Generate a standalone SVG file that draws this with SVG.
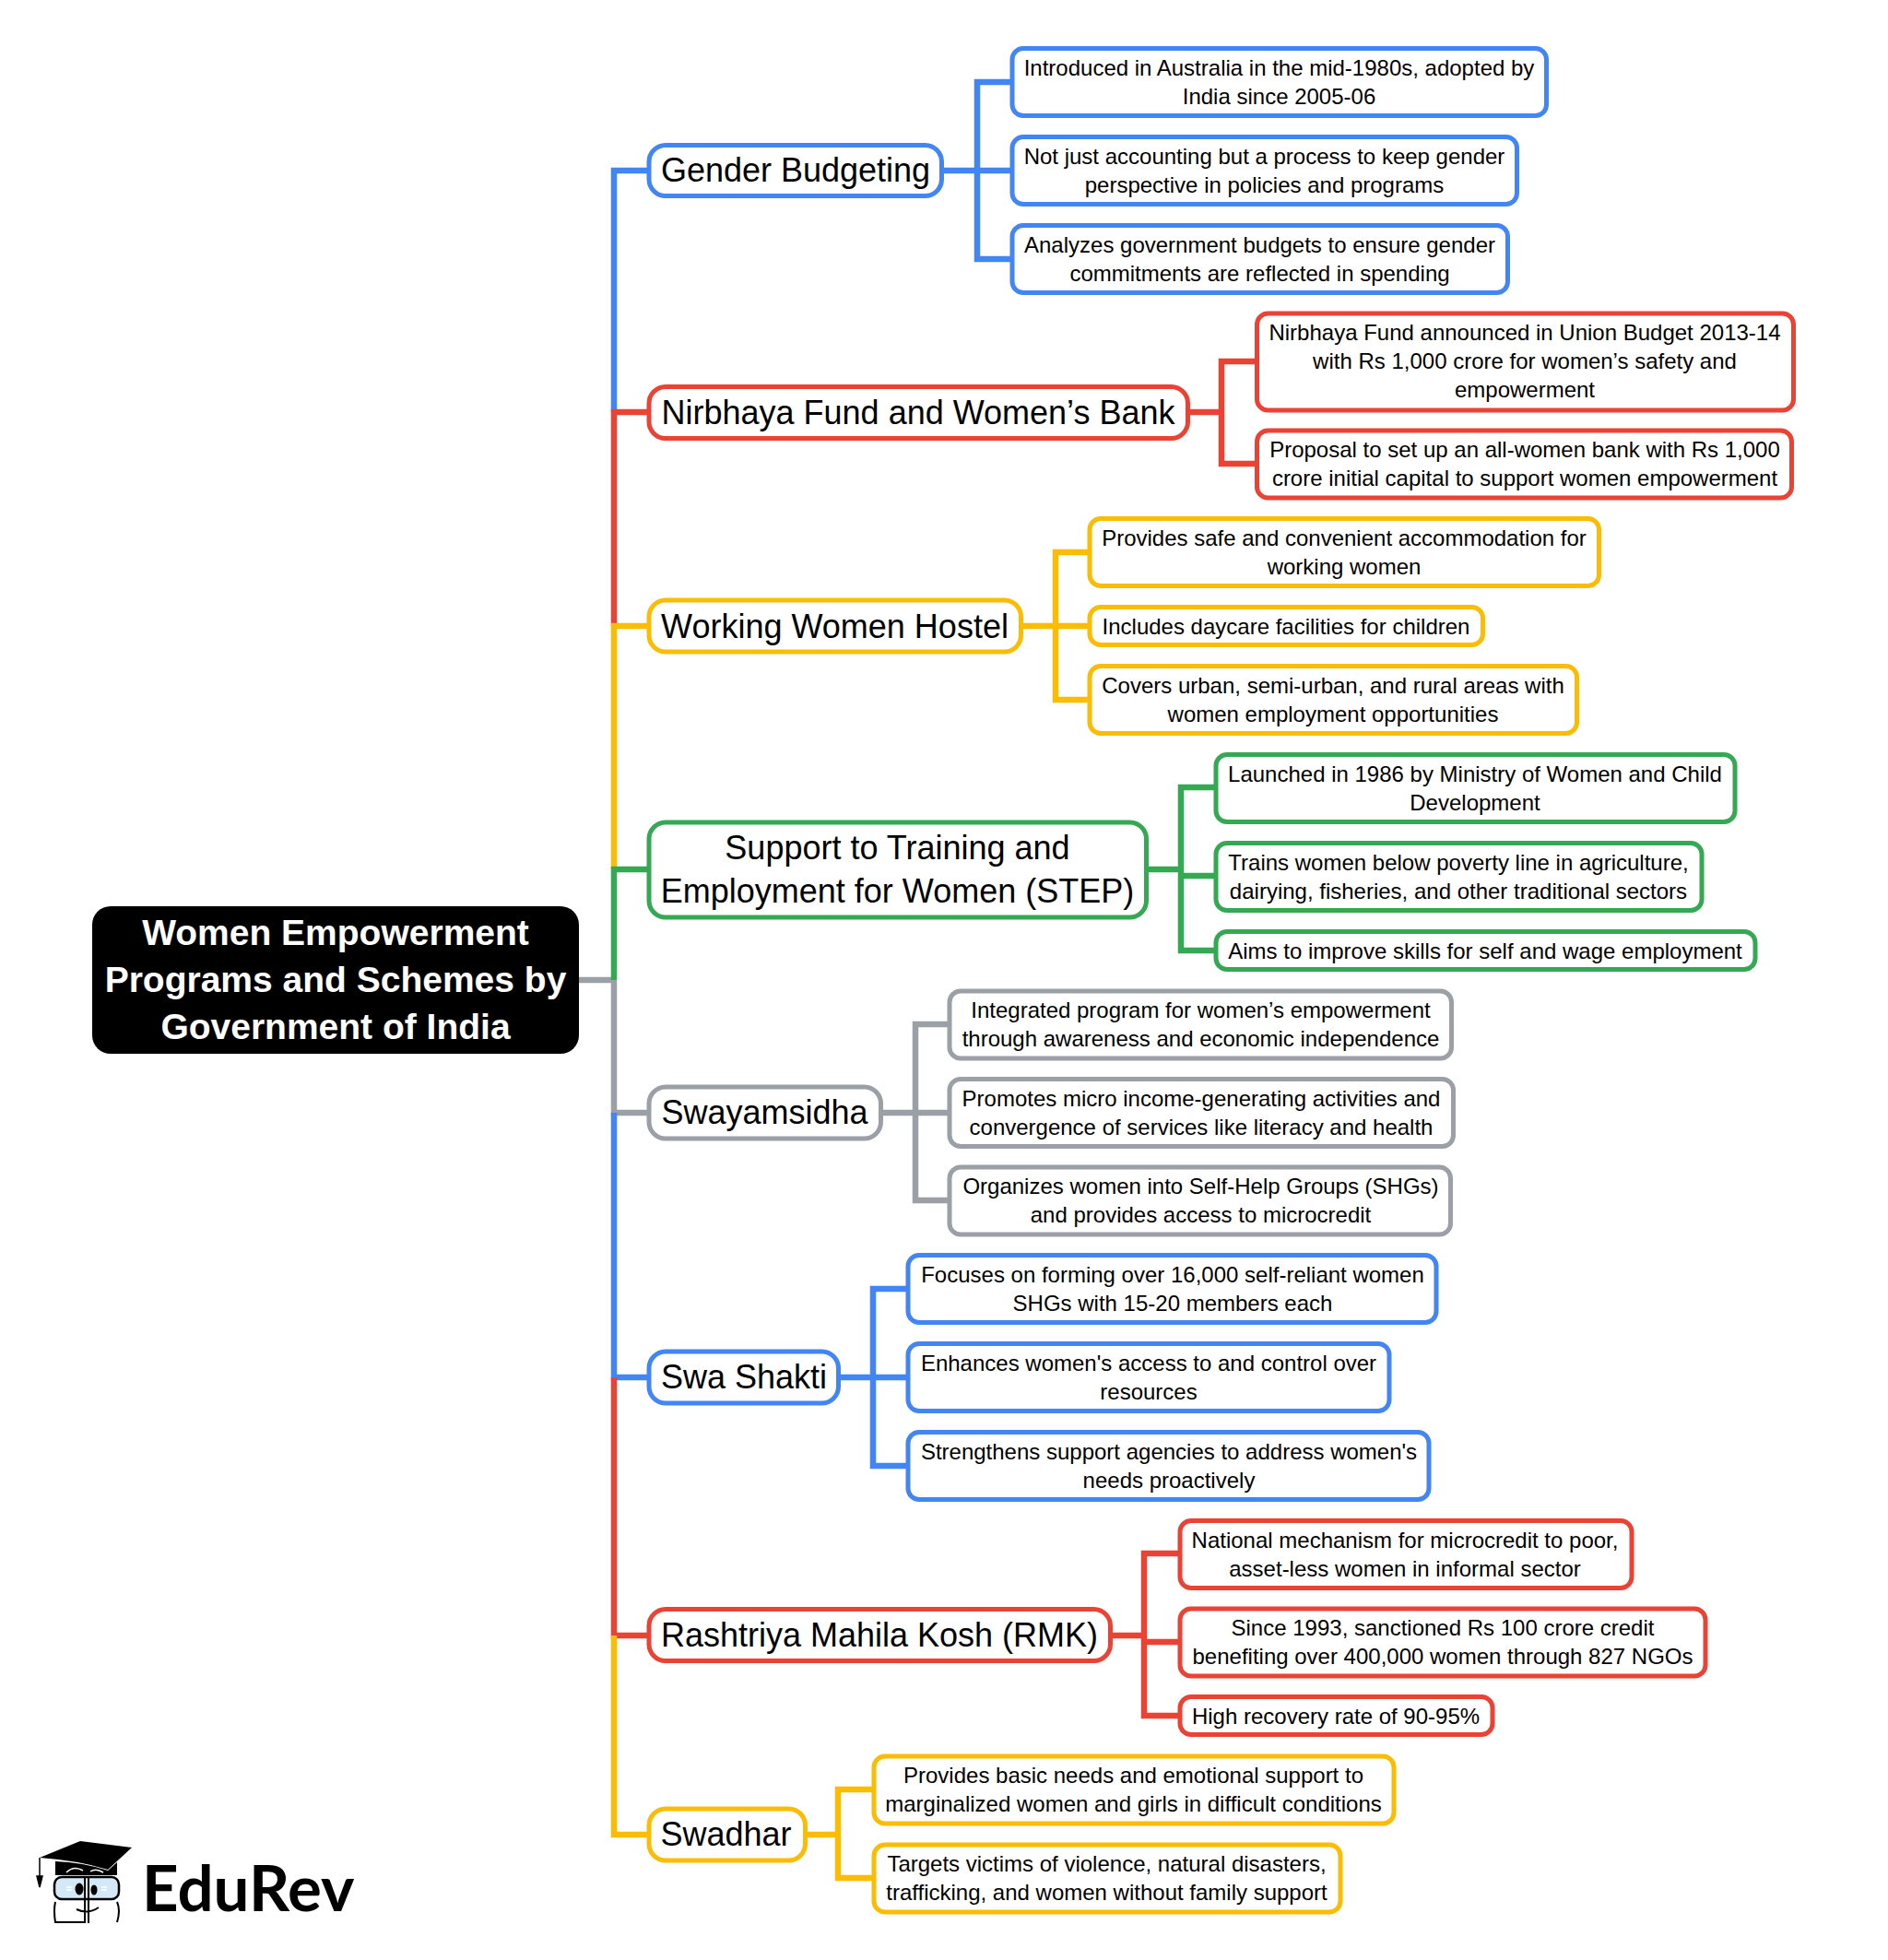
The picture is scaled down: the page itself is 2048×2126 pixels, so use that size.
<svg xmlns="http://www.w3.org/2000/svg" width="2048" height="2126" viewBox="0 0 2048 2126">
<style>
text{font-family:"Liberation Sans",Arial,sans-serif;text-anchor:middle;fill:#000}
.l{font-size:24px}.b{font-size:36px}.r{font-size:39px;font-weight:700;fill:#fff}
.box{fill:#fff;stroke-width:5}.bb{fill:#fff;stroke-width:5}
.conn path{fill:none;stroke-width:6.5}
.bl{stroke:#4285f4}.re{stroke:#ea4335}.ye{stroke:#fbbc04}.gr{stroke:#34a853}.ge{stroke:#9aa0a6}
</style>
<rect width="2048" height="2126" fill="#fff"/>
<g id="connectors" class="conn">
<path class="ge" d="M628 1063H666"/>
<path class="bl" d="M702 185H666V447"/><path class="re" d="M702 447H666V679"/><path class="ye" d="M702 679H666V943"/><path class="gr" d="M702 943H666V1063"/>
<path class="ge" d="M666 1063V1207H702"/><path class="bl" d="M666 1207V1494H702"/><path class="re" d="M666 1494V1774H702"/><path class="ye" d="M666 1774V1990H702"/>
<path class="bl" d="M1024 185H1096M1096 89H1060V281H1096"/>
<path class="re" d="M1289 447H1325M1362 392H1325V503H1362"/>
<path class="ye" d="M1108 679H1180M1180 599H1145V759H1180"/>
<path class="gr" d="M1245 943H1281M1317 854H1281V1031H1317M1281 950H1317"/>
<path class="ge" d="M956 1207H1028M1028 1111H993V1302H1028"/>
<path class="bl" d="M912 1494H983M983 1398H947V1590H983"/>
<path class="re" d="M1206 1774H1241M1278 1685H1241V1861H1278M1241 1781H1278"/>
<path class="ye" d="M874 1990H909M946 1941H909V2037H946"/>
</g>
<g id="root"><rect x="100" y="983" width="528" height="160" rx="20" fill="#000"/>
<text class="r" x="364" y="1025">Women Empowerment</text><text class="r" x="364" y="1076">Programs and Schemes by</text><text class="r" x="364" y="1127">Government of India</text></g>

<g id="gender-budgeting"><rect class="bb bl" x="704" y="157.5" width="317.5" height="55" rx="18"/><text class="b" x="863" y="197">Gender Budgeting</text></g>
<g id="gb-1"><rect class="box bl" x="1098" y="52.5" width="579.5" height="73" rx="12"/><text class="l" x="1387.5" y="82">Introduced in Australia in the mid-1980s, adopted by</text><text class="l" x="1387.5" y="113">India since 2005-06</text></g>
<g id="gb-2"><rect class="box bl" x="1098" y="148.5" width="547.5" height="73" rx="12"/><text class="l" x="1371.5" y="178">Not just accounting but a process to keep gender</text><text class="l" x="1371.5" y="209">perspective in policies and programs</text></g>
<g id="gb-3"><rect class="box bl" x="1098" y="244.5" width="537.5" height="73" rx="12"/><text class="l" x="1366.5" y="273.5">Analyzes government budgets to ensure gender</text><text class="l" x="1366.5" y="304.5">commitments are reflected in spending</text></g>

<g id="nirbhaya"><rect class="bb re" x="704" y="419.5" width="584.5" height="56" rx="18"/><text class="b" x="996" y="460">Nirbhaya Fund and Women’s Bank</text></g>
<g id="nb-1"><rect class="box re" x="1363.5" y="340" width="582" height="105" rx="12"/><text class="l" x="1654" y="369">Nirbhaya Fund announced in Union Budget 2013-14</text><text class="l" x="1654" y="400">with Rs 1,000 crore for women’s safety and</text><text class="l" x="1654" y="431">empowerment</text></g>
<g id="nb-2"><rect class="box re" x="1363.5" y="467" width="580" height="73" rx="12"/><text class="l" x="1654" y="496">Proposal to set up an all-women bank with Rs 1,000</text><text class="l" x="1654" y="527">crore initial capital to support women empowerment</text></g>

<g id="working-women"><rect class="bb ye" x="704" y="651" width="403.5" height="56" rx="18"/><text class="b" x="905.5" y="691.5">Working Women Hostel</text></g>
<g id="ww-1"><rect class="box ye" x="1182" y="562.5" width="552.5" height="73" rx="12"/><text class="l" x="1458" y="591.5">Provides safe and convenient accommodation for</text><text class="l" x="1458" y="622.5">working women</text></g>
<g id="ww-2"><rect class="box ye" x="1182" y="658.5" width="426.5" height="41" rx="12"/><text class="l" x="1395" y="687.5">Includes daycare facilities for children</text></g>
<g id="ww-3"><rect class="box ye" x="1182" y="722.5" width="528.5" height="73" rx="12"/><text class="l" x="1446" y="751.5">Covers urban, semi-urban, and rural areas with</text><text class="l" x="1446" y="782.5">women employment opportunities</text></g>

<g id="step"><rect class="bb gr" x="704" y="892" width="539.5" height="103" rx="18"/><text class="b" x="973.5" y="932">Support to Training and</text><text class="b" x="973.5" y="979">Employment for Women (STEP)</text></g>
<g id="st-1"><rect class="box gr" x="1319" y="818.5" width="563" height="73" rx="12"/><text class="l" x="1600" y="847.5">Launched in 1986 by Ministry of Women and Child</text><text class="l" x="1600" y="878.5">Development</text></g>
<g id="st-2"><rect class="box gr" x="1319" y="914.5" width="527" height="73" rx="12"/><text class="l" x="1582" y="943.5">Trains women below poverty line in agriculture,</text><text class="l" x="1582" y="974.5">dairying, fisheries, and other traditional sectors</text></g>
<g id="st-3"><rect class="box gr" x="1319" y="1010.5" width="585" height="41" rx="12"/><text class="l" x="1611" y="1039.5">Aims to improve skills for self and wage employment</text></g>

<g id="swayamsidha"><rect class="bb ge" x="704" y="1179" width="251.5" height="56" rx="18"/><text class="b" x="829.5" y="1218.5">Swayamsidha</text></g>
<g id="sw-1"><rect class="box ge" x="1030" y="1075" width="544.5" height="73" rx="12"/><text class="l" x="1302.5" y="1104">Integrated program for women’s empowerment</text><text class="l" x="1302.5" y="1135">through awareness and economic independence</text></g>
<g id="sw-2"><rect class="box ge" x="1030" y="1170.5" width="546.5" height="73" rx="12"/><text class="l" x="1303" y="1199.5">Promotes micro income-generating activities and</text><text class="l" x="1303" y="1230.5">convergence of services like literacy and health</text></g>
<g id="sw-3"><rect class="box ge" x="1030" y="1266" width="543.5" height="73" rx="12"/><text class="l" x="1302.5" y="1295">Organizes women into Self-Help Groups (SHGs)</text><text class="l" x="1302.5" y="1326">and provides access to microcredit</text></g>

<g id="swa-shakti"><rect class="bb bl" x="704" y="1466" width="205.5" height="56" rx="18"/><text class="b" x="807" y="1505.5">Swa Shakti</text></g>
<g id="ss-1"><rect class="box bl" x="985" y="1361.5" width="573" height="73" rx="12"/><text class="l" x="1272" y="1390.5">Focuses on forming over 16,000 self-reliant women</text><text class="l" x="1272" y="1421.5">SHGs with 15-20 members each</text></g>
<g id="ss-2"><rect class="box bl" x="985" y="1457.5" width="522" height="73" rx="12"/><text class="l" x="1246" y="1486.5">Enhances women's access to and control over</text><text class="l" x="1246" y="1517.5">resources</text></g>
<g id="ss-3"><rect class="box bl" x="985" y="1553.5" width="565" height="73" rx="12"/><text class="l" x="1268" y="1582.5">Strengthens support agencies to address women's</text><text class="l" x="1268" y="1613.5">needs proactively</text></g>

<g id="rmk"><rect class="bb re" x="704" y="1745.5" width="500.5" height="56" rx="18"/><text class="b" x="954" y="1785.5">Rashtriya Mahila Kosh (RMK)</text></g>
<g id="rm-1"><rect class="box re" x="1280" y="1649.5" width="490" height="73" rx="12"/><text class="l" x="1524" y="1678.5">National mechanism for microcredit to poor,</text><text class="l" x="1524" y="1709.5">asset-less women in informal sector</text></g>
<g id="rm-2"><rect class="box re" x="1280" y="1745" width="570" height="73" rx="12"/><text class="l" x="1565" y="1774">Since 1993, sanctioned Rs 100 crore credit</text><text class="l" x="1565" y="1805">benefiting over 400,000 women through 827 NGOs</text></g>
<g id="rm-3"><rect class="box re" x="1280" y="1840.5" width="339" height="41" rx="12"/><text class="l" x="1449" y="1869.5">High recovery rate of 90-95%</text></g>

<g id="swadhar"><rect class="bb ye" x="704" y="1962" width="169.5" height="56" rx="18"/><text class="b" x="787.5" y="2001.5">Swadhar</text></g>
<g id="sd-1"><rect class="box ye" x="948" y="1905" width="564" height="73" rx="12"/><text class="l" x="1229.5" y="1933.5">Provides basic needs and emotional support to</text><text class="l" x="1229.5" y="1964.5">marginalized women and girls in difficult conditions</text></g>
<g id="sd-2"><rect class="box ye" x="948" y="2001" width="506" height="73" rx="12"/><text class="l" x="1200.5" y="2029.5">Targets victims of violence, natural disasters,</text><text class="l" x="1200.5" y="2060.5">trafficking, and women without family support</text></g>

<g id="logo">
<path d="M43 2015L87 1997L143 2004L117 2028Q85 2018 43 2015Z" fill="#000"/>
<path d="M60 2019Q90 2020 117 2029L127 2020V2034H60Z" fill="#000"/>
<path d="M72 2031Q80 2023 90 2029M98 2030Q104 2026 112 2031" fill="none" stroke="#fff" stroke-width="1.5"/>
<path d="M43 2015V2035M40 2035L46 2035L43 2047Z" fill="#000" stroke="#000" stroke-width="1.5"/>
<rect x="59" y="2036" width="70" height="24" rx="8" fill="#d3e9f7" stroke="#000" stroke-width="2.5"/>
<path d="M72 2047h6M72 2050h6M110 2047h6M110 2050h6" fill="none" stroke="#fff" stroke-width="1.5"/>
<path d="M92 2035V2086M96 2035V2086M92 2085H60Q58 2072 60 2063M127 2063Q131 2072 127 2085M83 2071Q95 2077 107 2069" fill="none" stroke="#000" stroke-width="2"/>
<ellipse cx="86" cy="2049" rx="4.5" ry="6.5"/><ellipse cx="102" cy="2050" rx="3.5" ry="5.5"/>
<text x="154" y="2073" style="text-anchor:start;font-family:Lato,sans-serif;font-weight:700;font-size:69px">EduRev</text>
</g>
</svg>
